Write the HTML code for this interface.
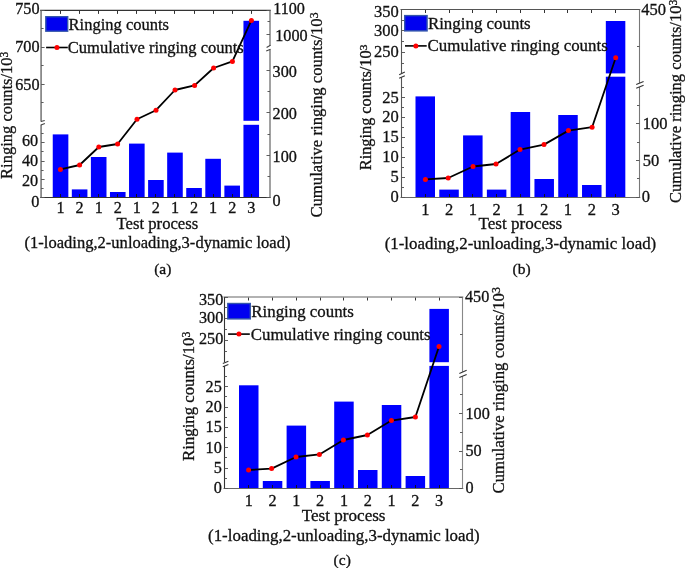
<!DOCTYPE html>
<html><head><meta charset="utf-8"><style>
html,body{margin:0;padding:0;background:#fff;}
svg{display:block;font-family:"Liberation Serif", serif;will-change:transform;}
svg text{fill:#111;stroke:#111;stroke-width:0.3px;}
</style></head><body>
<svg width="685" height="568" viewBox="0 0 685 568">
<rect width="685" height="568" fill="#fff"/>
<rect x="52.75" y="134.40" width="15.60" height="63.10" fill="#00f" />
<rect x="71.82" y="189.40" width="15.60" height="8.10" fill="#00f" />
<rect x="90.89" y="157.00" width="15.60" height="40.50" fill="#00f" />
<rect x="109.96" y="192.00" width="15.60" height="5.50" fill="#00f" />
<rect x="129.03" y="143.60" width="15.60" height="53.90" fill="#00f" />
<rect x="148.10" y="180.00" width="15.60" height="17.50" fill="#00f" />
<rect x="167.17" y="152.60" width="15.60" height="44.90" fill="#00f" />
<rect x="186.24" y="188.00" width="15.60" height="9.50" fill="#00f" />
<rect x="205.31" y="158.80" width="15.60" height="38.70" fill="#00f" />
<rect x="224.38" y="185.60" width="15.60" height="11.90" fill="#00f" />
<rect x="243.45" y="20.80" width="15.60" height="100.00" fill="#00f" />
<rect x="243.45" y="124.80" width="15.60" height="72.70" fill="#00f" />
<line x1="60.50" y1="10.40" x2="60.50" y2="13.90" stroke="#333" stroke-width="1"/>
<line x1="60.50" y1="197.50" x2="60.50" y2="194.00" stroke="#112" stroke-width="1"/>
<line x1="79.50" y1="10.40" x2="79.50" y2="13.90" stroke="#333" stroke-width="1"/>
<line x1="79.50" y1="197.50" x2="79.50" y2="194.00" stroke="#112" stroke-width="1"/>
<line x1="98.50" y1="10.40" x2="98.50" y2="13.90" stroke="#333" stroke-width="1"/>
<line x1="98.50" y1="197.50" x2="98.50" y2="194.00" stroke="#112" stroke-width="1"/>
<line x1="117.50" y1="10.40" x2="117.50" y2="13.90" stroke="#333" stroke-width="1"/>
<line x1="117.50" y1="197.50" x2="117.50" y2="194.00" stroke="#112" stroke-width="1"/>
<line x1="136.50" y1="10.40" x2="136.50" y2="13.90" stroke="#333" stroke-width="1"/>
<line x1="136.50" y1="197.50" x2="136.50" y2="194.00" stroke="#112" stroke-width="1"/>
<line x1="155.50" y1="10.40" x2="155.50" y2="13.90" stroke="#333" stroke-width="1"/>
<line x1="155.50" y1="197.50" x2="155.50" y2="194.00" stroke="#112" stroke-width="1"/>
<line x1="174.50" y1="10.40" x2="174.50" y2="13.90" stroke="#333" stroke-width="1"/>
<line x1="174.50" y1="197.50" x2="174.50" y2="194.00" stroke="#112" stroke-width="1"/>
<line x1="194.50" y1="10.40" x2="194.50" y2="13.90" stroke="#333" stroke-width="1"/>
<line x1="194.50" y1="197.50" x2="194.50" y2="194.00" stroke="#112" stroke-width="1"/>
<line x1="213.50" y1="10.40" x2="213.50" y2="13.90" stroke="#333" stroke-width="1"/>
<line x1="213.50" y1="197.50" x2="213.50" y2="194.00" stroke="#112" stroke-width="1"/>
<line x1="232.50" y1="10.40" x2="232.50" y2="13.90" stroke="#333" stroke-width="1"/>
<line x1="232.50" y1="197.50" x2="232.50" y2="194.00" stroke="#112" stroke-width="1"/>
<line x1="251.50" y1="10.40" x2="251.50" y2="13.90" stroke="#333" stroke-width="1"/>
<line x1="251.50" y1="197.50" x2="251.50" y2="194.00" stroke="#112" stroke-width="1"/>
<line x1="40.10" y1="10.40" x2="270.80" y2="10.40" stroke="#333" stroke-width="1.2"/>
<line x1="40.10" y1="197.50" x2="270.80" y2="197.50" stroke="#333" stroke-width="1.2"/>
<line x1="41.10" y1="10.40" x2="41.10" y2="121.40" stroke="#8a8a8a" stroke-width="1.8"/>
<line x1="41.10" y1="124.70" x2="41.10" y2="197.50" stroke="#8a8a8a" stroke-width="1.8"/>
<line x1="40.90" y1="121.60" x2="44.70" y2="120.40" stroke="#444" stroke-width="1.1"/>
<line x1="40.90" y1="124.90" x2="44.90" y2="123.40" stroke="#444" stroke-width="1.1"/>
<line x1="270.00" y1="10.40" x2="270.00" y2="45.90" stroke="#8a8a8a" stroke-width="1.6"/>
<line x1="270.00" y1="49.80" x2="270.00" y2="197.50" stroke="#8a8a8a" stroke-width="1.6"/>
<line x1="270.40" y1="45.30" x2="266.60" y2="47.40" stroke="#444" stroke-width="1.1"/>
<line x1="270.60" y1="49.20" x2="266.20" y2="51.10" stroke="#444" stroke-width="1.1"/>
<line x1="41.10" y1="10.50" x2="44.60" y2="10.50" stroke="#555" stroke-width="0.95"/>
<line x1="41.10" y1="28.50" x2="43.60" y2="28.50" stroke="#555" stroke-width="0.95"/>
<line x1="41.10" y1="47.50" x2="44.60" y2="47.50" stroke="#555" stroke-width="0.95"/>
<line x1="41.10" y1="65.50" x2="43.60" y2="65.50" stroke="#555" stroke-width="0.95"/>
<line x1="41.10" y1="84.50" x2="44.60" y2="84.50" stroke="#555" stroke-width="0.95"/>
<line x1="41.10" y1="102.50" x2="43.60" y2="102.50" stroke="#555" stroke-width="0.95"/>
<line x1="41.10" y1="197.50" x2="44.60" y2="197.50" stroke="#555" stroke-width="0.95"/>
<line x1="41.10" y1="188.50" x2="43.60" y2="188.50" stroke="#555" stroke-width="0.95"/>
<line x1="41.10" y1="179.50" x2="44.60" y2="179.50" stroke="#555" stroke-width="0.95"/>
<line x1="41.10" y1="170.50" x2="43.60" y2="170.50" stroke="#555" stroke-width="0.95"/>
<line x1="41.10" y1="161.50" x2="44.60" y2="161.50" stroke="#555" stroke-width="0.95"/>
<line x1="41.10" y1="151.50" x2="43.60" y2="151.50" stroke="#555" stroke-width="0.95"/>
<line x1="41.10" y1="142.50" x2="44.60" y2="142.50" stroke="#555" stroke-width="0.95"/>
<line x1="41.10" y1="133.50" x2="43.60" y2="133.50" stroke="#555" stroke-width="0.95"/>
<line x1="270.00" y1="10.50" x2="266.50" y2="10.50" stroke="#555" stroke-width="0.95"/>
<line x1="270.00" y1="21.50" x2="267.50" y2="21.50" stroke="#555" stroke-width="0.95"/>
<line x1="270.00" y1="34.50" x2="266.50" y2="34.50" stroke="#555" stroke-width="0.95"/>
<line x1="270.00" y1="197.50" x2="266.50" y2="197.50" stroke="#555" stroke-width="0.95"/>
<line x1="270.00" y1="176.50" x2="267.50" y2="176.50" stroke="#555" stroke-width="0.95"/>
<line x1="270.00" y1="155.50" x2="266.50" y2="155.50" stroke="#555" stroke-width="0.95"/>
<line x1="270.00" y1="134.50" x2="267.50" y2="134.50" stroke="#555" stroke-width="0.95"/>
<line x1="270.00" y1="112.50" x2="266.50" y2="112.50" stroke="#555" stroke-width="0.95"/>
<line x1="270.00" y1="91.50" x2="267.50" y2="91.50" stroke="#555" stroke-width="0.95"/>
<line x1="270.00" y1="70.50" x2="266.50" y2="70.50" stroke="#555" stroke-width="0.95"/>
<polyline points="60.40,169.40 79.60,165.00 98.80,147.00 117.60,144.00 137.00,119.20 156.00,110.20 175.00,90.00 194.60,85.40 213.60,68.00 232.40,61.40 251.40,20.40" fill="none" stroke="#000" stroke-width="1.8" stroke-linejoin="round"/>
<circle cx="60.40" cy="169.40" r="2.5" fill="#f00"/>
<circle cx="79.60" cy="165.00" r="2.5" fill="#f00"/>
<circle cx="98.80" cy="147.00" r="2.5" fill="#f00"/>
<circle cx="117.60" cy="144.00" r="2.5" fill="#f00"/>
<circle cx="137.00" cy="119.20" r="2.5" fill="#f00"/>
<circle cx="156.00" cy="110.20" r="2.5" fill="#f00"/>
<circle cx="175.00" cy="90.00" r="2.5" fill="#f00"/>
<circle cx="194.60" cy="85.40" r="2.5" fill="#f00"/>
<circle cx="213.60" cy="68.00" r="2.5" fill="#f00"/>
<circle cx="232.40" cy="61.40" r="2.5" fill="#f00"/>
<circle cx="251.40" cy="20.40" r="2.5" fill="#f00"/>
<rect x="45.80" y="16.70" width="21.90" height="14.50" fill="#0000f0" stroke="#3355aa" stroke-width="1.4"/>
<text x="68.60" y="29.60" font-size="16.5" text-anchor="start" >Ringing counts</text>
<line x1="46.10" y1="47.50" x2="67.80" y2="47.50" stroke="#000" stroke-width="1.6"/>
<circle cx="56.95" cy="47.50" r="2.5" fill="#f00"/>
<text x="67.80" y="52.90" font-size="16.5" text-anchor="start" >Cumulative ringing counts</text>
<text x="39.50" y="14.20" font-size="16.2" text-anchor="end" >750</text>
<text x="39.50" y="51.90" font-size="16.2" text-anchor="end" >700</text>
<text x="39.50" y="89.60" font-size="16.2" text-anchor="end" >650</text>
<text x="38.20" y="145.50" font-size="16.2" text-anchor="end" >60</text>
<text x="38.20" y="165.90" font-size="16.2" text-anchor="end" >40</text>
<text x="38.20" y="186.30" font-size="16.2" text-anchor="end" >20</text>
<text x="39.40" y="206.60" font-size="16.2" text-anchor="end" >0</text>
<text x="273.20" y="14.40" font-size="16.2" text-anchor="start" >1100</text>
<text x="275.20" y="41.20" font-size="16.2" text-anchor="start" >1000</text>
<text x="272.60" y="76.70" font-size="16.2" text-anchor="start" >300</text>
<text x="272.60" y="118.80" font-size="16.2" text-anchor="start" >200</text>
<text x="272.60" y="162.20" font-size="16.2" text-anchor="start" >100</text>
<text x="272.60" y="206.40" font-size="16.2" text-anchor="start" >0</text>
<text x="60.55" y="212.60" font-size="16.2" text-anchor="middle" >1</text>
<text x="79.62" y="212.60" font-size="16.2" text-anchor="middle" >2</text>
<text x="98.69" y="212.60" font-size="16.2" text-anchor="middle" >1</text>
<text x="117.76" y="212.60" font-size="16.2" text-anchor="middle" >2</text>
<text x="136.83" y="212.60" font-size="16.2" text-anchor="middle" >1</text>
<text x="155.90" y="212.60" font-size="16.2" text-anchor="middle" >2</text>
<text x="174.97" y="212.60" font-size="16.2" text-anchor="middle" >1</text>
<text x="194.04" y="212.60" font-size="16.2" text-anchor="middle" >2</text>
<text x="213.11" y="212.60" font-size="16.2" text-anchor="middle" >1</text>
<text x="232.18" y="212.60" font-size="16.2" text-anchor="middle" >2</text>
<text x="251.25" y="212.60" font-size="16.2" text-anchor="middle" >3</text>
<text x="157.40" y="228.90" font-size="16.67" text-anchor="middle" >Test process</text>
<text x="157.50" y="248.00" font-size="16.55" text-anchor="middle" >(1-loading,2-unloading,3-dynamic load)</text>
<text x="162.80" y="273.80" font-size="15.5" text-anchor="middle" >(a)</text>
<text transform="translate(11.60,178.90) rotate(-90)" font-size="16.5">Ringing counts/10<tspan font-size="11.5" dy="-4.1">3</tspan></text>
<text transform="translate(321.70,217.60) rotate(-90)" font-size="16.7">Cumulative ringing counts/10<tspan font-size="11.7" dy="-4.1">3</tspan></text>
<rect x="415.50" y="96.40" width="19.50" height="101.10" fill="#00f" />
<rect x="439.29" y="189.60" width="19.50" height="7.90" fill="#00f" />
<rect x="463.08" y="135.40" width="19.50" height="62.10" fill="#00f" />
<rect x="486.87" y="189.60" width="19.50" height="7.90" fill="#00f" />
<rect x="510.66" y="112.00" width="19.50" height="85.50" fill="#00f" />
<rect x="534.45" y="179.00" width="19.50" height="18.50" fill="#00f" />
<rect x="558.24" y="115.00" width="19.50" height="82.50" fill="#00f" />
<rect x="582.03" y="185.00" width="19.50" height="12.50" fill="#00f" />
<rect x="605.82" y="21.00" width="19.50" height="52.40" fill="#00f" />
<rect x="605.82" y="76.70" width="19.50" height="120.80" fill="#00f" />
<line x1="425.50" y1="9.50" x2="425.50" y2="13.00" stroke="#333" stroke-width="1"/>
<line x1="425.50" y1="197.50" x2="425.50" y2="194.00" stroke="#112" stroke-width="1"/>
<line x1="449.50" y1="9.50" x2="449.50" y2="13.00" stroke="#333" stroke-width="1"/>
<line x1="449.50" y1="197.50" x2="449.50" y2="194.00" stroke="#112" stroke-width="1"/>
<line x1="472.50" y1="9.50" x2="472.50" y2="13.00" stroke="#333" stroke-width="1"/>
<line x1="472.50" y1="197.50" x2="472.50" y2="194.00" stroke="#112" stroke-width="1"/>
<line x1="496.50" y1="9.50" x2="496.50" y2="13.00" stroke="#333" stroke-width="1"/>
<line x1="496.50" y1="197.50" x2="496.50" y2="194.00" stroke="#112" stroke-width="1"/>
<line x1="520.50" y1="9.50" x2="520.50" y2="13.00" stroke="#333" stroke-width="1"/>
<line x1="520.50" y1="197.50" x2="520.50" y2="194.00" stroke="#112" stroke-width="1"/>
<line x1="544.50" y1="9.50" x2="544.50" y2="13.00" stroke="#333" stroke-width="1"/>
<line x1="544.50" y1="197.50" x2="544.50" y2="194.00" stroke="#112" stroke-width="1"/>
<line x1="567.50" y1="9.50" x2="567.50" y2="13.00" stroke="#333" stroke-width="1"/>
<line x1="567.50" y1="197.50" x2="567.50" y2="194.00" stroke="#112" stroke-width="1"/>
<line x1="591.50" y1="9.50" x2="591.50" y2="13.00" stroke="#333" stroke-width="1"/>
<line x1="591.50" y1="197.50" x2="591.50" y2="194.00" stroke="#112" stroke-width="1"/>
<line x1="615.50" y1="9.50" x2="615.50" y2="13.00" stroke="#333" stroke-width="1"/>
<line x1="615.50" y1="197.50" x2="615.50" y2="194.00" stroke="#112" stroke-width="1"/>
<line x1="400.50" y1="9.50" x2="640.30" y2="9.50" stroke="#555" stroke-width="1.1"/>
<line x1="400.50" y1="197.50" x2="640.30" y2="197.50" stroke="#666" stroke-width="1.1"/>
<line x1="401.50" y1="9.50" x2="401.50" y2="73.40" stroke="#555" stroke-width="1.1"/>
<line x1="401.50" y1="77.40" x2="401.50" y2="197.50" stroke="#555" stroke-width="1.1"/>
<line x1="399.20" y1="74.70" x2="404.80" y2="72.10" stroke="#333" stroke-width="1.1"/>
<line x1="399.20" y1="78.30" x2="404.80" y2="75.70" stroke="#333" stroke-width="1.1"/>
<line x1="639.50" y1="9.50" x2="639.50" y2="83.00" stroke="#777" stroke-width="1.1"/>
<line x1="639.50" y1="87.00" x2="639.50" y2="197.50" stroke="#777" stroke-width="1.1"/>
<line x1="636.20" y1="84.50" x2="643.60" y2="81.50" stroke="#333" stroke-width="1.1"/>
<line x1="636.20" y1="88.15" x2="643.60" y2="85.15" stroke="#333" stroke-width="1.1"/>
<line x1="401.50" y1="9.50" x2="405.00" y2="9.50" stroke="#555" stroke-width="0.95"/>
<line x1="401.50" y1="20.50" x2="404.00" y2="20.50" stroke="#555" stroke-width="0.95"/>
<line x1="401.50" y1="30.50" x2="405.00" y2="30.50" stroke="#555" stroke-width="0.95"/>
<line x1="401.50" y1="41.50" x2="404.00" y2="41.50" stroke="#555" stroke-width="0.95"/>
<line x1="401.50" y1="52.50" x2="405.00" y2="52.50" stroke="#555" stroke-width="0.95"/>
<line x1="401.50" y1="63.50" x2="404.00" y2="63.50" stroke="#555" stroke-width="0.95"/>
<line x1="401.50" y1="197.50" x2="405.00" y2="197.50" stroke="#555" stroke-width="0.95"/>
<line x1="401.50" y1="187.50" x2="404.00" y2="187.50" stroke="#555" stroke-width="0.95"/>
<line x1="401.50" y1="177.50" x2="405.00" y2="177.50" stroke="#555" stroke-width="0.95"/>
<line x1="401.50" y1="167.50" x2="404.00" y2="167.50" stroke="#555" stroke-width="0.95"/>
<line x1="401.50" y1="157.50" x2="405.00" y2="157.50" stroke="#555" stroke-width="0.95"/>
<line x1="401.50" y1="147.50" x2="404.00" y2="147.50" stroke="#555" stroke-width="0.95"/>
<line x1="401.50" y1="137.50" x2="405.00" y2="137.50" stroke="#555" stroke-width="0.95"/>
<line x1="401.50" y1="127.50" x2="404.00" y2="127.50" stroke="#555" stroke-width="0.95"/>
<line x1="401.50" y1="117.50" x2="405.00" y2="117.50" stroke="#555" stroke-width="0.95"/>
<line x1="401.50" y1="107.50" x2="404.00" y2="107.50" stroke="#555" stroke-width="0.95"/>
<line x1="401.50" y1="97.50" x2="405.00" y2="97.50" stroke="#555" stroke-width="0.95"/>
<line x1="401.50" y1="87.50" x2="404.00" y2="87.50" stroke="#555" stroke-width="0.95"/>
<line x1="639.50" y1="9.50" x2="636.00" y2="9.50" stroke="#555" stroke-width="0.95"/>
<line x1="639.50" y1="46.50" x2="637.00" y2="46.50" stroke="#555" stroke-width="0.95"/>
<line x1="639.50" y1="197.50" x2="636.00" y2="197.50" stroke="#555" stroke-width="0.95"/>
<line x1="639.50" y1="178.50" x2="637.00" y2="178.50" stroke="#555" stroke-width="0.95"/>
<line x1="639.50" y1="160.50" x2="636.00" y2="160.50" stroke="#555" stroke-width="0.95"/>
<line x1="639.50" y1="142.50" x2="637.00" y2="142.50" stroke="#555" stroke-width="0.95"/>
<line x1="639.50" y1="123.50" x2="636.00" y2="123.50" stroke="#555" stroke-width="0.95"/>
<line x1="639.50" y1="105.50" x2="637.00" y2="105.50" stroke="#555" stroke-width="0.95"/>
<polyline points="425.40,179.40 448.20,178.00 473.00,166.50 496.00,164.00 520.00,149.60 544.00,144.60 568.40,130.60 592.10,127.20 615.70,57.80" fill="none" stroke="#000" stroke-width="1.8" stroke-linejoin="round"/>
<circle cx="425.40" cy="179.40" r="2.5" fill="#f00"/>
<circle cx="448.20" cy="178.00" r="2.5" fill="#f00"/>
<circle cx="473.00" cy="166.50" r="2.5" fill="#f00"/>
<circle cx="496.00" cy="164.00" r="2.5" fill="#f00"/>
<circle cx="520.00" cy="149.60" r="2.5" fill="#f00"/>
<circle cx="544.00" cy="144.60" r="2.5" fill="#f00"/>
<circle cx="568.40" cy="130.60" r="2.5" fill="#f00"/>
<circle cx="592.10" cy="127.20" r="2.5" fill="#f00"/>
<circle cx="615.70" cy="57.80" r="2.5" fill="#f00"/>
<rect x="404.70" y="15.60" width="22.40" height="15.30" fill="#0000f0" stroke="#3355aa" stroke-width="1.4"/>
<text x="427.90" y="29.00" font-size="16.9" text-anchor="start" >Ringing counts</text>
<line x1="405.00" y1="45.90" x2="426.70" y2="45.90" stroke="#000" stroke-width="1.6"/>
<circle cx="415.85" cy="45.90" r="2.5" fill="#f00"/>
<text x="427.60" y="50.80" font-size="16.9" text-anchor="start" >Cumulative ringing counts</text>
<text x="398.80" y="17.40" font-size="16.5" text-anchor="end" >350</text>
<text x="398.80" y="35.80" font-size="16.5" text-anchor="end" >300</text>
<text x="398.80" y="57.10" font-size="16.5" text-anchor="end" >250</text>
<text x="398.80" y="102.60" font-size="16.5" text-anchor="end" >25</text>
<text x="398.80" y="122.40" font-size="16.5" text-anchor="end" >20</text>
<text x="398.80" y="142.40" font-size="16.5" text-anchor="end" >15</text>
<text x="398.80" y="162.40" font-size="16.5" text-anchor="end" >10</text>
<text x="398.80" y="182.40" font-size="16.5" text-anchor="end" >5</text>
<text x="398.80" y="202.40" font-size="16.5" text-anchor="end" >0</text>
<text x="641.30" y="14.50" font-size="16.5" text-anchor="start" >450</text>
<text x="642.80" y="129.00" font-size="16.5" text-anchor="start" >100</text>
<text x="642.80" y="165.80" font-size="16.5" text-anchor="start" >50</text>
<text x="641.80" y="202.20" font-size="16.5" text-anchor="start" >0</text>
<text x="425.25" y="215.00" font-size="16.5" text-anchor="middle" >1</text>
<text x="449.04" y="215.00" font-size="16.5" text-anchor="middle" >2</text>
<text x="472.83" y="215.00" font-size="16.5" text-anchor="middle" >1</text>
<text x="496.62" y="215.00" font-size="16.5" text-anchor="middle" >2</text>
<text x="520.41" y="215.00" font-size="16.5" text-anchor="middle" >1</text>
<text x="544.20" y="215.00" font-size="16.5" text-anchor="middle" >2</text>
<text x="567.99" y="215.00" font-size="16.5" text-anchor="middle" >1</text>
<text x="591.78" y="215.00" font-size="16.5" text-anchor="middle" >2</text>
<text x="615.57" y="215.00" font-size="16.5" text-anchor="middle" >3</text>
<text x="520.40" y="228.90" font-size="17.1" text-anchor="middle" >Test process</text>
<text x="520.45" y="248.60" font-size="16.9" text-anchor="middle" >(1-loading,2-unloading,3-dynamic load)</text>
<text x="521.60" y="274.20" font-size="15.5" text-anchor="middle" >(b)</text>
<text transform="translate(371.40,170.20) rotate(-90)" font-size="16.3">Ringing counts/10<tspan font-size="11.4" dy="-4.1">3</tspan></text>
<text transform="translate(680.70,203.00) rotate(-90)" font-size="16.55">Cumulative ringing counts/10<tspan font-size="11.6" dy="-4.1">3</tspan></text>
<rect x="239.00" y="385.30" width="19.50" height="103.20" fill="#00f" />
<rect x="262.80" y="481.00" width="19.50" height="7.50" fill="#00f" />
<rect x="286.60" y="425.60" width="19.50" height="62.90" fill="#00f" />
<rect x="310.40" y="481.00" width="19.50" height="7.50" fill="#00f" />
<rect x="334.20" y="401.60" width="19.50" height="86.90" fill="#00f" />
<rect x="358.00" y="470.00" width="19.50" height="18.50" fill="#00f" />
<rect x="381.80" y="405.00" width="19.50" height="83.50" fill="#00f" />
<rect x="405.60" y="476.00" width="19.50" height="12.50" fill="#00f" />
<rect x="429.40" y="308.90" width="19.50" height="53.30" fill="#00f" />
<rect x="429.40" y="365.90" width="19.50" height="122.60" fill="#00f" />
<line x1="248.50" y1="297.00" x2="248.50" y2="300.50" stroke="#333" stroke-width="1"/>
<line x1="248.50" y1="488.50" x2="248.50" y2="485.00" stroke="#112" stroke-width="1"/>
<line x1="272.50" y1="297.00" x2="272.50" y2="300.50" stroke="#333" stroke-width="1"/>
<line x1="272.50" y1="488.50" x2="272.50" y2="485.00" stroke="#112" stroke-width="1"/>
<line x1="296.50" y1="297.00" x2="296.50" y2="300.50" stroke="#333" stroke-width="1"/>
<line x1="296.50" y1="488.50" x2="296.50" y2="485.00" stroke="#112" stroke-width="1"/>
<line x1="320.50" y1="297.00" x2="320.50" y2="300.50" stroke="#333" stroke-width="1"/>
<line x1="320.50" y1="488.50" x2="320.50" y2="485.00" stroke="#112" stroke-width="1"/>
<line x1="343.50" y1="297.00" x2="343.50" y2="300.50" stroke="#333" stroke-width="1"/>
<line x1="343.50" y1="488.50" x2="343.50" y2="485.00" stroke="#112" stroke-width="1"/>
<line x1="367.50" y1="297.00" x2="367.50" y2="300.50" stroke="#333" stroke-width="1"/>
<line x1="367.50" y1="488.50" x2="367.50" y2="485.00" stroke="#112" stroke-width="1"/>
<line x1="391.50" y1="297.00" x2="391.50" y2="300.50" stroke="#333" stroke-width="1"/>
<line x1="391.50" y1="488.50" x2="391.50" y2="485.00" stroke="#112" stroke-width="1"/>
<line x1="415.50" y1="297.00" x2="415.50" y2="300.50" stroke="#333" stroke-width="1"/>
<line x1="415.50" y1="488.50" x2="415.50" y2="485.00" stroke="#112" stroke-width="1"/>
<line x1="439.50" y1="297.00" x2="439.50" y2="300.50" stroke="#333" stroke-width="1"/>
<line x1="439.50" y1="488.50" x2="439.50" y2="485.00" stroke="#112" stroke-width="1"/>
<line x1="223.50" y1="297.00" x2="463.30" y2="297.00" stroke="#999" stroke-width="1.5"/>
<line x1="223.50" y1="488.50" x2="463.30" y2="488.50" stroke="#666" stroke-width="1.1"/>
<line x1="224.50" y1="297.00" x2="224.50" y2="362.20" stroke="#333" stroke-width="1.1"/>
<line x1="224.50" y1="366.00" x2="224.50" y2="488.50" stroke="#333" stroke-width="1.1"/>
<line x1="222.80" y1="363.45" x2="228.40" y2="361.25" stroke="#333" stroke-width="1.1"/>
<line x1="222.80" y1="366.65" x2="228.40" y2="364.45" stroke="#333" stroke-width="1.1"/>
<line x1="462.50" y1="297.00" x2="462.50" y2="371.90" stroke="#888" stroke-width="1.1"/>
<line x1="462.50" y1="376.20" x2="462.50" y2="488.50" stroke="#888" stroke-width="1.1"/>
<line x1="459.35" y1="373.40" x2="466.65" y2="370.30" stroke="#333" stroke-width="1.1"/>
<line x1="459.35" y1="377.50" x2="466.65" y2="374.40" stroke="#333" stroke-width="1.1"/>
<line x1="224.50" y1="297.50" x2="228.00" y2="297.50" stroke="#555" stroke-width="0.95"/>
<line x1="224.50" y1="307.50" x2="227.00" y2="307.50" stroke="#555" stroke-width="0.95"/>
<line x1="224.50" y1="318.50" x2="228.00" y2="318.50" stroke="#555" stroke-width="0.95"/>
<line x1="224.50" y1="329.50" x2="227.00" y2="329.50" stroke="#555" stroke-width="0.95"/>
<line x1="224.50" y1="340.50" x2="228.00" y2="340.50" stroke="#555" stroke-width="0.95"/>
<line x1="224.50" y1="351.50" x2="227.00" y2="351.50" stroke="#555" stroke-width="0.95"/>
<line x1="224.50" y1="488.50" x2="228.00" y2="488.50" stroke="#555" stroke-width="0.95"/>
<line x1="224.50" y1="478.50" x2="227.00" y2="478.50" stroke="#555" stroke-width="0.95"/>
<line x1="224.50" y1="468.50" x2="228.00" y2="468.50" stroke="#555" stroke-width="0.95"/>
<line x1="224.50" y1="457.50" x2="227.00" y2="457.50" stroke="#555" stroke-width="0.95"/>
<line x1="224.50" y1="447.50" x2="228.00" y2="447.50" stroke="#555" stroke-width="0.95"/>
<line x1="224.50" y1="437.50" x2="227.00" y2="437.50" stroke="#555" stroke-width="0.95"/>
<line x1="224.50" y1="427.50" x2="228.00" y2="427.50" stroke="#555" stroke-width="0.95"/>
<line x1="224.50" y1="417.50" x2="227.00" y2="417.50" stroke="#555" stroke-width="0.95"/>
<line x1="224.50" y1="407.50" x2="228.00" y2="407.50" stroke="#555" stroke-width="0.95"/>
<line x1="224.50" y1="396.50" x2="227.00" y2="396.50" stroke="#555" stroke-width="0.95"/>
<line x1="224.50" y1="386.50" x2="228.00" y2="386.50" stroke="#555" stroke-width="0.95"/>
<line x1="224.50" y1="376.50" x2="227.00" y2="376.50" stroke="#555" stroke-width="0.95"/>
<line x1="462.50" y1="297.50" x2="459.00" y2="297.50" stroke="#555" stroke-width="0.95"/>
<line x1="462.50" y1="334.50" x2="460.00" y2="334.50" stroke="#555" stroke-width="0.95"/>
<line x1="462.50" y1="488.50" x2="459.00" y2="488.50" stroke="#555" stroke-width="0.95"/>
<line x1="462.50" y1="469.50" x2="460.00" y2="469.50" stroke="#555" stroke-width="0.95"/>
<line x1="462.50" y1="451.50" x2="459.00" y2="451.50" stroke="#555" stroke-width="0.95"/>
<line x1="462.50" y1="432.50" x2="460.00" y2="432.50" stroke="#555" stroke-width="0.95"/>
<line x1="462.50" y1="413.50" x2="459.00" y2="413.50" stroke="#555" stroke-width="0.95"/>
<line x1="462.50" y1="394.50" x2="460.00" y2="394.50" stroke="#555" stroke-width="0.95"/>
<polyline points="248.60,470.00 271.60,468.60 296.00,457.00 319.40,454.40 343.40,440.00 367.40,435.00 391.40,420.60 415.40,417.00 439.00,346.50" fill="none" stroke="#000" stroke-width="1.8" stroke-linejoin="round"/>
<circle cx="248.60" cy="470.00" r="2.5" fill="#f00"/>
<circle cx="271.60" cy="468.60" r="2.5" fill="#f00"/>
<circle cx="296.00" cy="457.00" r="2.5" fill="#f00"/>
<circle cx="319.40" cy="454.40" r="2.5" fill="#f00"/>
<circle cx="343.40" cy="440.00" r="2.5" fill="#f00"/>
<circle cx="367.40" cy="435.00" r="2.5" fill="#f00"/>
<circle cx="391.40" cy="420.60" r="2.5" fill="#f00"/>
<circle cx="415.40" cy="417.00" r="2.5" fill="#f00"/>
<circle cx="439.00" cy="346.50" r="2.5" fill="#f00"/>
<rect x="227.80" y="303.50" width="22.50" height="15.40" fill="#0000f0" stroke="#3355aa" stroke-width="1.4"/>
<text x="251.30" y="316.80" font-size="16.88" text-anchor="start" >Ringing counts</text>
<line x1="228.10" y1="334.10" x2="249.80" y2="334.10" stroke="#000" stroke-width="1.6"/>
<circle cx="238.95" cy="334.10" r="2.5" fill="#f00"/>
<text x="250.80" y="339.50" font-size="16.88" text-anchor="start" >Cumulative ringing counts</text>
<text x="223.30" y="304.80" font-size="16.2" text-anchor="end" >350</text>
<text x="223.30" y="322.80" font-size="16.2" text-anchor="end" >300</text>
<text x="223.30" y="344.10" font-size="16.2" text-anchor="end" >250</text>
<text x="221.80" y="391.50" font-size="16.2" text-anchor="end" >25</text>
<text x="221.80" y="412.00" font-size="16.2" text-anchor="end" >20</text>
<text x="221.80" y="432.40" font-size="16.2" text-anchor="end" >15</text>
<text x="221.80" y="452.80" font-size="16.2" text-anchor="end" >10</text>
<text x="221.80" y="473.20" font-size="16.2" text-anchor="end" >5</text>
<text x="221.80" y="493.40" font-size="16.2" text-anchor="end" >0</text>
<text x="465.00" y="301.50" font-size="16.2" text-anchor="start" >450</text>
<text x="465.50" y="418.50" font-size="16.2" text-anchor="start" >100</text>
<text x="465.50" y="456.20" font-size="16.2" text-anchor="start" >50</text>
<text x="465.50" y="493.40" font-size="16.2" text-anchor="start" >0</text>
<text x="248.75" y="506.20" font-size="16.2" text-anchor="middle" >1</text>
<text x="272.55" y="506.20" font-size="16.2" text-anchor="middle" >2</text>
<text x="296.35" y="506.20" font-size="16.2" text-anchor="middle" >1</text>
<text x="320.15" y="506.20" font-size="16.2" text-anchor="middle" >2</text>
<text x="343.95" y="506.20" font-size="16.2" text-anchor="middle" >1</text>
<text x="367.75" y="506.20" font-size="16.2" text-anchor="middle" >2</text>
<text x="391.55" y="506.20" font-size="16.2" text-anchor="middle" >1</text>
<text x="415.35" y="506.20" font-size="16.2" text-anchor="middle" >2</text>
<text x="439.15" y="506.20" font-size="16.2" text-anchor="middle" >3</text>
<text x="343.65" y="520.80" font-size="17.1" text-anchor="middle" >Test process</text>
<text x="343.85" y="540.90" font-size="16.9" text-anchor="middle" >(1-loading,2-unloading,3-dynamic load)</text>
<text x="342.20" y="564.80" font-size="15.5" text-anchor="middle" >(c)</text>
<text transform="translate(194.40,460.90) rotate(-90)" font-size="16.75">Ringing counts/10<tspan font-size="11.7" dy="-4.1">3</tspan></text>
<text transform="translate(503.60,493.50) rotate(-90)" font-size="16.8">Cumulative ringing counts/10<tspan font-size="11.8" dy="-4.1">3</tspan></text>
</svg>
</body></html>
